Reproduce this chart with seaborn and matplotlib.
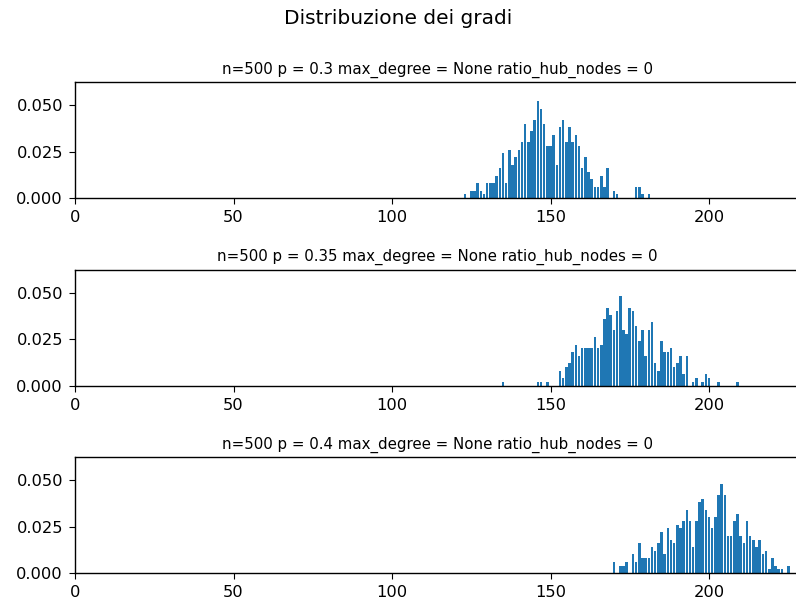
import numpy as np
import pandas as pd
import matplotlib
matplotlib.use("Agg")
import matplotlib.pyplot as plt
import seaborn as sns

n_nodes = 500

# Degree -> number of nodes with that degree, one graph per edge probability
p_values = [0.3, 0.35, 0.4]

degrees_p030 = [123, 125, 126, 127, 128, 129, 130, 131, 132, 133, 134, 135, 136, 137,
                138, 139, 140, 141, 142, 143, 144, 145, 146, 147, 148, 149, 150, 151,
                152, 153, 154, 155, 156, 157, 158, 159, 160, 161, 162, 163, 164, 165,
                166, 167, 168, 170, 171, 177, 178, 179, 181]
counts_p030 = [1, 2, 2, 4, 2, 1, 4, 4, 4, 6, 8, 12, 4, 13,
               9, 11, 13, 15, 20, 15, 18, 21, 26, 24, 20, 14, 14, 17,
               9, 19, 21, 15, 19, 15, 17, 14, 8, 11, 7, 5, 3, 3,
               6, 3, 8, 2, 1, 3, 3, 1, 1]

degrees_p035 = [135, 146, 147, 149, 153, 154, 155, 156, 157, 158, 159, 160, 161, 162,
                163, 164, 165, 166, 167, 168, 169, 170, 171, 172, 173, 174, 175, 176,
                177, 178, 179, 180, 181, 182, 183, 184, 185, 186, 187, 188, 189, 190,
                191, 192, 193, 195, 196, 198, 199, 200, 203, 209]
counts_p035 = [1, 1, 1, 1, 4, 2, 5, 6, 9, 11, 8, 10, 10, 10,
               10, 13, 10, 11, 18, 21, 19, 15, 20, 24, 15, 14, 21, 20,
               16, 12, 15, 8, 15, 17, 6, 4, 12, 9, 9, 10, 5, 6,
               8, 3, 8, 1, 2, 1, 3, 2, 1, 1]

degrees_p040 = [170, 172, 173, 174, 176, 177, 178, 179, 180, 181, 182, 183, 184, 185,
                186, 187, 188, 189, 190, 191, 192, 193, 194, 195, 196, 197, 198, 199,
                200, 201, 202, 203, 204, 205, 206, 207, 208, 209, 210, 211, 212, 213,
                214, 215, 216, 217, 218, 219, 220, 221, 222, 223, 225]
counts_p040 = [3, 2, 2, 3, 5, 3, 8, 4, 4, 4, 7, 6, 8, 11,
               5, 12, 9, 8, 13, 12, 14, 17, 14, 7, 14, 19, 20, 17,
               15, 12, 15, 21, 24, 21, 10, 10, 14, 16, 10, 8, 14, 10,
               9, 7, 9, 5, 6, 1, 4, 2, 1, 1, 2]

x_ticks = [0, 50, 100, 150, 200]
y_ticks = [0.0, 0.025, 0.05]

series = [
    (degrees_p030, counts_p030),
    (degrees_p035, counts_p035),
    (degrees_p040, counts_p040),
]

plt.rcParams.update({
    "xtick.labelsize": 11.7,
    "ytick.labelsize": 11.7,
    "xtick.major.size": 4.2,
    "ytick.major.size": 4.2,
    "xtick.major.pad": 4.5,
    "ytick.major.pad": 4.5,
    "axes.linewidth": 1.0,
})

fig = plt.figure(figsize=(7.96, 6.03), dpi=100)
fig.suptitle("Distribuzione dei gradi", fontsize=14.5, y=0.985)

W, H = 796.0, 603.0
left_px, right_px = 75.0, 800.0
axes_tops_px = [82.0, 269.5, 457.0]
axes_h_px = 116.0

for (deg, cnt), p, top_px in zip(series, p_values, axes_tops_px):
    ax = fig.add_axes([left_px / W, 1 - (top_px + axes_h_px) / H,
                       (right_px - left_px) / W, axes_h_px / H])
    df = pd.DataFrame({"degree": deg, "freq": np.array(cnt) / n_nodes})
    sns.histplot(data=df, x="degree", weights="freq", discrete=True, shrink=0.8,
                 color="#1f77b4", alpha=1.0, linewidth=0, ax=ax)
    ax.set_xlim(0, 228.7)
    ax.set_ylim(0, 0.0625)
    ax.set_xticks(x_ticks)
    ax.set_yticks(y_ticks)
    ax.set_xlabel("")
    ax.set_ylabel("")
    ax.set_title(f"n={n_nodes} p = {p} max_degree = None ratio_hub_nodes = 0",
                 fontsize=10.8, pad=6)

fig.savefig("out.png", dpi=100)
